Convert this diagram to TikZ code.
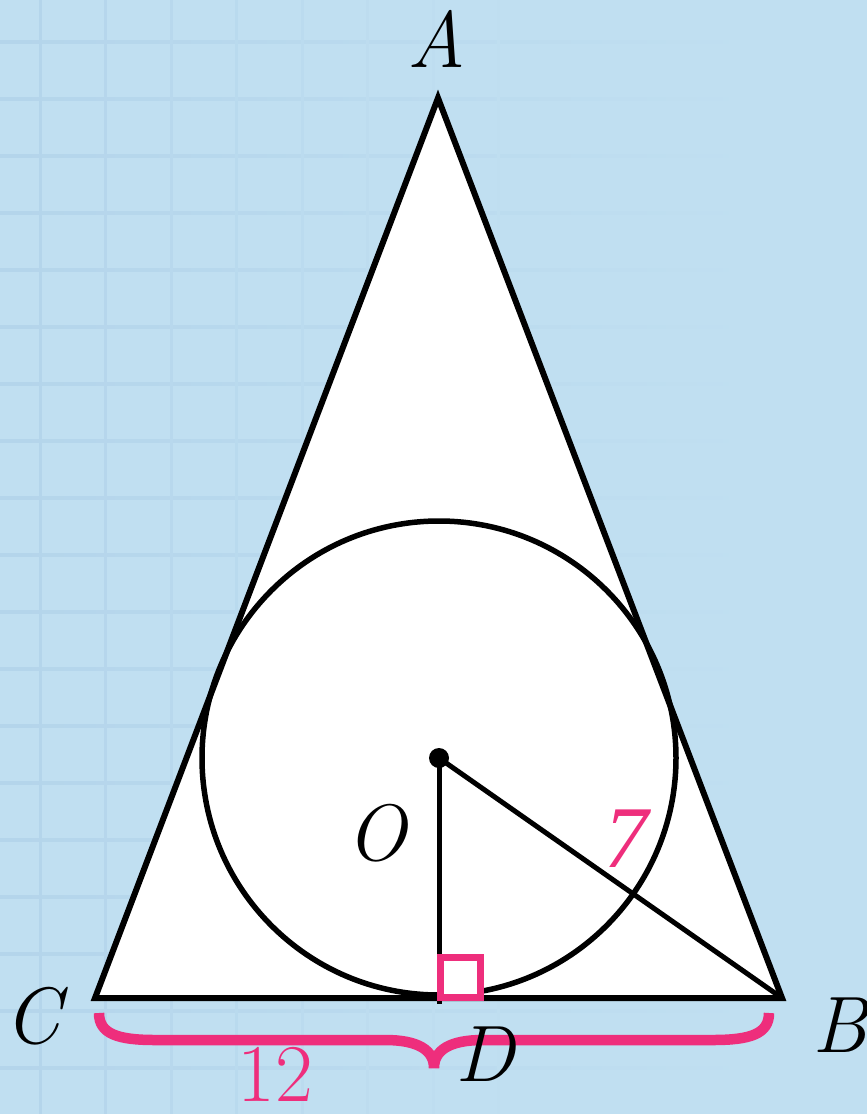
\documentclass[tikz,border=0pt]{standalone}
\usepackage{fontspec}
\usepackage{tikz}
\newfontfamily\sevenfont{Liberation Serif}
\definecolor{bg}{RGB}{192,223,241}
\definecolor{gridc}{RGB}{180,213,235}
\definecolor{pinkc}{RGB}{238,46,124}
\tikzset{
  geo/.style={line width=6pt, black, line join=miter},
  lbl/.style={inner sep=0pt, font=\fontsize{80}{96}\selectfont\itshape},
  pinklbl/.style={inner sep=0pt, text=pinkc, font=\fontsize{88}{100}\selectfont},
}
\begin{document}
\begin{tikzpicture}[x=1pt,y=-1pt]
\useasboundingbox (0,0) rectangle (867,1114);
\fill[bg] (0,0) rectangle (867,1114);
% faint grid
\foreach \k in {0,...,18}{
  \pgfmathsetmacro{\yy}{41.7+57*\k}
  \shade[left color=gridc, right color=bg] (0,\yy-1.5) rectangle (760,\yy+1.5);
}
\foreach \k/\m in {0/100,1/85,2/70,3/55,4/40,5/28,6/18,7/10}{
  \pgfmathsetmacro{\xx}{40+65.5*\k}
  \fill[gridc!\m!bg] (\xx-1.5,0) rectangle (\xx+1.5,1114);
}
% triangle
\coordinate (A) at (438,98);
\coordinate (B) at (782,998);
\coordinate (C) at (95,998);
\coordinate (O) at (439,758);
\coordinate (D) at (439,1004);
\fill[white] (A) -- (B) -- (C) -- cycle;
\draw[geo] (A) -- (B) -- (C) -- cycle;
\draw[line width=5.5pt] (O) circle[radius=237];
\draw[line width=5pt] (O) -- (D);
\draw[line width=5pt] (O) -- (B);
\fill (O) circle[radius=10];
% right angle mark
\node[draw=pinkc, line width=7pt, fill=white, minimum width=40pt, minimum height=40pt, inner sep=0pt] (sq) at (460.5,977.5) {};
% brace
\draw[pinkc, line width=10.5pt] (99,1013) .. controls (99,1034) and (118,1040) .. (155,1040) -- (385,1040) .. controls (418,1040) and (434,1050) .. (434,1068) .. controls (434,1050) and (450,1040) .. (483,1040) -- (713,1040) .. controls (750,1040) and (769,1034) .. (769,1013);
% labels
\node[lbl] (lA) at (437,39) {A};
\node[lbl] (lB) at (840,1025) {B};
\node[lbl] (lC) at (33,1016) {C};
\node[lbl] (lD) at (485,1054) {D};
\node[lbl] (lO) at (376,833) {O};
\node[pinklbl, font=\fontsize{88}{100}\selectfont\sevenfont\itshape] (l7) at (626,839) {7};
\node[pinklbl, font=\fontsize{82}{96}\selectfont] (l12) at (275,1074) {12};
\end{tikzpicture}
\end{document}
